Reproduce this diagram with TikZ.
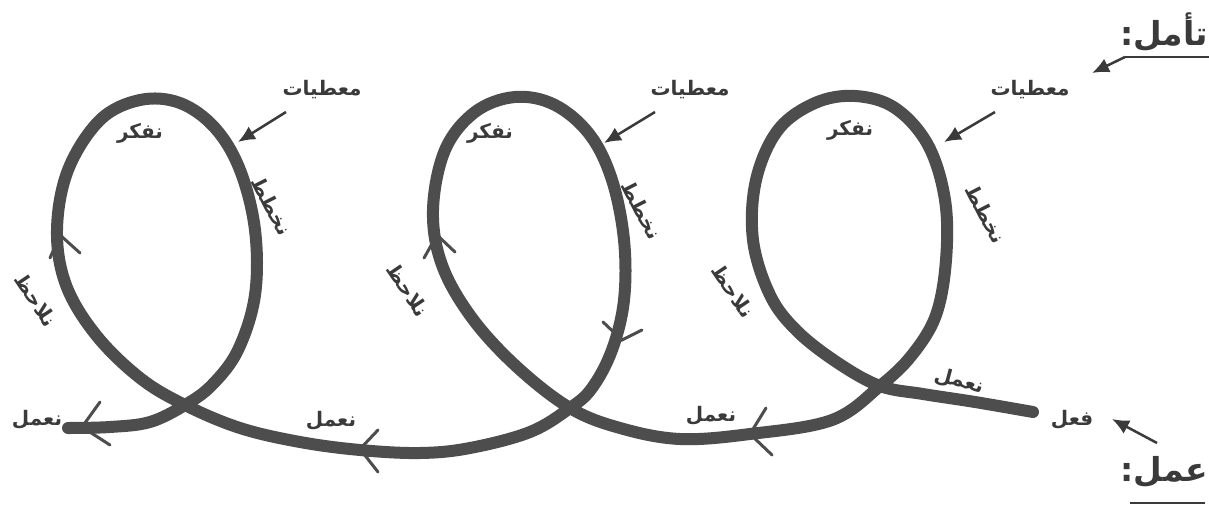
\documentclass[tikz,border=0pt]{standalone}
\usepackage{fontspec}
\newfontfamily\arabicfont[Script=Arabic]{DejaVu Sans}
\TeXXeTstate=1
\usetikzlibrary{arrows.meta}
\definecolor{curvegray}{HTML}{4D4D4D}
\definecolor{txtgray}{HTML}{3A3A3A}
\tikzset{
  lbl/.style={inner sep=0pt, text=txtgray, font=\arabicfont\bfseries\fontsize{20}{24}\selectfont},
  biglbl/.style={inner sep=0pt, text=txtgray, font=\arabicfont\bfseries\fontsize{33}{38}\selectfont},
  spiral/.style={draw=curvegray, line width=12pt, line cap=round, line join=round},
  barb/.style={draw=curvegray, line width=3pt, line cap=round, line join=miter},
  pointer/.style={draw=txtgray, line width=2.5pt, -{Latex[length=17pt,width=15pt]}},
}
\begin{document}
\begin{tikzpicture}[x=1pt,y=-1pt]
\fill[white] (0,0) rectangle (1209,508);
\useasboundingbox (0,0) rectangle (1209,508);

% spiral
\draw[spiral] plot[smooth, tension=0.6] coordinates {
 (1033,412) (975,402) (923,394) (880,386) (838,363) (797,331) (770,295) (753,240) (756,180) (778,130) (815,103) (855,96) (895,108) (928,145) (945,200) (946,260) (936,315) (912,355) (880,386) (832,420) (750,434)
 (680,439) (620,428) (570,408) (517,367) (472,318) (442,265) (433,210) (445,150) (475,112) (515,97) (555,105) (590,135) (612,180) (624,240) (624,300) (612,350) (592,388) (570,408) (530,432) (470,448) (420,453) (360,450) (300,442) (240,428) (185,405)
 (140,378) (96,335) (66,285) (57,230) (68,170) (100,120) (140,100) (180,103) (215,128) (240,170) (255,230) (255,295) (238,350) (212,385) (185,405) (150,422) (110,427) (68,428)};

% barbs
\coordinate (j1) at (750,434); \draw[barb] (766,408) -- (j1) -- (772,455);
\coordinate (j2) at (622,340); \draw[barb] (603,322) -- (j2) -- (642,330);
\coordinate (j3) at (360,449); \draw[barb] (378,430) -- (j3) -- (378,472);
\coordinate (j4) at (82,427);  \draw[barb] (100,402) -- (j4) -- (110,445);
\coordinate (j5) at (437,235); \draw[barb] (424,258) -- (j5) -- (455,252);
\coordinate (j6) at (60,235);  \draw[barb] (50,258) -- (j6) -- (80,253);

% labels
\node[lbl] (m1) at (322,90) {\beginR معطيات\endR};
\node[lbl] (m2) at (690,90) {\beginR معطيات\endR};
\node[lbl] (m3) at (1030,90) {\beginR معطيات\endR};
\coordinate (t1) at (238,142); \coordinate (s1) at (286,112);
\coordinate (t2) at (604,143); \coordinate (s2) at (655,112);
\coordinate (t3) at (944,142); \coordinate (s3) at (995,112);
\draw[pointer] (s1) -- (t1);
\draw[pointer] (s2) -- (t2);
\draw[pointer] (s3) -- (t3);

\node[lbl] (f1) at (140,133) {\beginR نفكر\endR};
\node[lbl] (f2) at (490,133) {\beginR نفكر\endR};
\node[lbl] (f3) at (850,130) {\beginR نفكر\endR};

\node[lbl, rotate=-63] (k1) at (272,206) {\beginR نخطط\endR};
\node[lbl, rotate=-63] (k2) at (642,210) {\beginR نخطط\endR};
\node[lbl, rotate=-63] (k3) at (986,214) {\beginR نخطط\endR};

\node[lbl, rotate=-56] (l1) at (36,300) {\beginR نلاحظ\endR};
\node[lbl, rotate=-56] (l2) at (408,290) {\beginR نلاحظ\endR};
\node[lbl, rotate=-56] (l3) at (733,291) {\beginR نلاحظ\endR};

\node[lbl, rotate=-15] (n3) at (959,381) {\beginR نعمل\endR};
\node[lbl] (n2) at (711,416) {\beginR نعمل\endR};
\node[lbl] (n1) at (331,421) {\beginR نعمل\endR};
\node[lbl] (n0) at (37,420) {\beginR نعمل\endR};

\node[lbl] (fe) at (1072,420) {\beginR فعل\endR};
\coordinate (fa) at (1157,443);
\draw[pointer] (fa) -- (1112,419);

% titles
\node[biglbl] (ta) at (1164,32) {\beginR تأمل:\endR};
\coordinate (u1) at (1209,57); \coordinate (u2) at (1125,57);
\draw[txtgray, line width=1.5pt] (u1) -- (u2);
\draw[pointer] (u2) -- (1092,73);

\node[biglbl] (am) at (1164,472) {\beginR عمل:\endR};
\coordinate (w1) at (1130,503); \coordinate (w2) at (1205,503);
\draw[txtgray, line width=1.5pt] (w1) -- (w2);
\end{tikzpicture}
\end{document}
